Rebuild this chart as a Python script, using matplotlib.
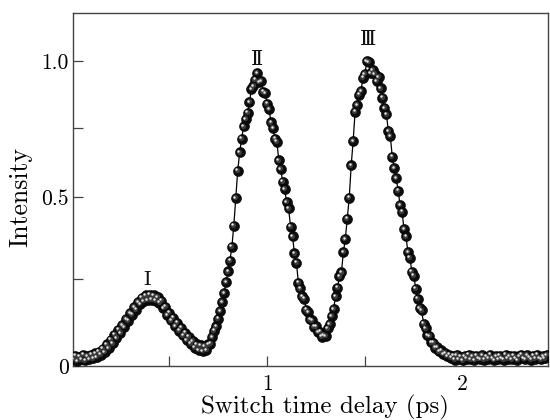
import numpy as np
import matplotlib
matplotlib.use("Agg")
import matplotlib.pyplot as plt
from matplotlib import transforms

# ---------------- data ----------------
delay_ps = [
    0.01, 0.02, 0.03, 0.04, 0.05, 0.06, 0.07, 0.08, 0.09, 0.10,
    0.11, 0.12, 0.13, 0.14, 0.15, 0.16, 0.17, 0.18, 0.19, 0.20,
    0.21, 0.22, 0.23, 0.24, 0.25, 0.26, 0.27, 0.28, 0.29, 0.30,
    0.31, 0.32, 0.33, 0.34, 0.35, 0.36, 0.37, 0.38, 0.39, 0.40,
    0.41, 0.42, 0.43, 0.44, 0.45, 0.46, 0.47, 0.48, 0.49, 0.50,
    0.51, 0.52, 0.53, 0.54, 0.55, 0.56, 0.57, 0.58, 0.59, 0.60,
    0.61, 0.62, 0.63, 0.64, 0.65, 0.66, 0.67, 0.68, 0.69, 0.70,
    0.71, 0.72, 0.73, 0.74, 0.75, 0.76, 0.77, 0.78, 0.79, 0.80,
    0.81, 0.82, 0.83, 0.84, 0.85, 0.86, 0.87, 0.88, 0.89, 0.90,
    0.91, 0.92, 0.93, 0.94, 0.95, 0.96, 0.97, 0.98, 0.99, 1.00,
    1.01, 1.02, 1.03, 1.04, 1.05, 1.06, 1.07, 1.08, 1.09, 1.10,
    1.11, 1.12, 1.13, 1.14, 1.15, 1.16, 1.17, 1.18, 1.19, 1.20,
    1.21, 1.22, 1.23, 1.24, 1.25, 1.26, 1.27, 1.28, 1.29, 1.30,
    1.31, 1.32, 1.33, 1.34, 1.35, 1.36, 1.37, 1.38, 1.39, 1.40,
    1.41, 1.42, 1.43, 1.44, 1.45, 1.46, 1.47, 1.48, 1.49, 1.50,
    1.51, 1.52, 1.53, 1.54, 1.55, 1.56, 1.57, 1.58, 1.59, 1.60,
    1.61, 1.62, 1.63, 1.64, 1.65, 1.66, 1.67, 1.68, 1.69, 1.70,
    1.71, 1.72, 1.73, 1.74, 1.75, 1.76, 1.77, 1.78, 1.79, 1.80,
    1.81, 1.82, 1.83, 1.84, 1.85, 1.86, 1.87, 1.88, 1.89, 1.90,
    1.91, 1.92, 1.93, 1.94, 1.95, 1.96, 1.97, 1.98, 1.99, 2.00,
    2.01, 2.02, 2.03, 2.04, 2.05, 2.06, 2.07, 2.08, 2.09, 2.10,
    2.11, 2.12, 2.13, 2.14, 2.15, 2.16, 2.17, 2.18, 2.19, 2.20,
    2.21, 2.22, 2.23, 2.24, 2.25, 2.26, 2.27, 2.28, 2.29, 2.30,
    2.31, 2.32, 2.33, 2.34, 2.35, 2.36, 2.37, 2.38, 2.39, 2.40,
    2.41, 2.42, 2.43,
]
intensity = [
    0.020, 0.030, 0.014, 0.027, 0.019, 0.032, 0.016, 0.028, 0.020, 0.033,
    0.022, 0.036, 0.026, 0.041, 0.032, 0.050, 0.040, 0.062, 0.052, 0.076,
    0.065, 0.090, 0.080, 0.104, 0.094, 0.118, 0.112, 0.135, 0.130, 0.152,
    0.148, 0.169, 0.162, 0.184, 0.178, 0.196, 0.186, 0.203, 0.190, 0.205,
    0.191, 0.203, 0.188, 0.198, 0.182, 0.188, 0.166, 0.170, 0.146, 0.153,
    0.131, 0.139, 0.115, 0.124, 0.102, 0.110, 0.088, 0.096, 0.075, 0.084,
    0.064, 0.072, 0.053, 0.062, 0.046, 0.059, 0.043, 0.057, 0.046, 0.062,
    0.064, 0.083, 0.101, 0.114, 0.136, 0.158, 0.184, 0.210, 0.241, 0.273,
    0.306, 0.348, 0.413, 0.496, 0.595, 0.661, 0.710, 0.755, 0.783, 0.806,
    0.845, 0.895, 0.905, 0.930, 0.955, 0.920, 0.925, 0.885, 0.880, 0.840,
    0.820, 0.770, 0.748, 0.710, 0.700, 0.632, 0.600, 0.555, 0.528, 0.484,
    0.465, 0.410, 0.380, 0.328, 0.300, 0.240, 0.223, 0.200, 0.193, 0.162,
    0.155, 0.134, 0.131, 0.113, 0.114, 0.098, 0.099, 0.084, 0.089, 0.086,
    0.108, 0.120, 0.143, 0.164, 0.200, 0.225, 0.258, 0.270, 0.332, 0.372,
    0.434, 0.498, 0.614, 0.702, 0.810, 0.835, 0.874, 0.887, 0.937, 0.950,
    1.000, 0.995, 0.955, 0.965, 0.950, 0.925, 0.940, 0.897, 0.863, 0.823,
    0.800, 0.738, 0.720, 0.645, 0.605, 0.568, 0.523, 0.475, 0.455, 0.402,
    0.380, 0.332, 0.315, 0.272, 0.260, 0.222, 0.193, 0.166, 0.160, 0.122,
    0.108, 0.088, 0.086, 0.068, 0.067, 0.053, 0.054, 0.042, 0.045, 0.034,
    0.037, 0.028, 0.033, 0.024, 0.030, 0.018, 0.031, 0.020, 0.027, 0.016,
    0.029, 0.021, 0.032, 0.019, 0.028, 0.017, 0.030, 0.022, 0.020, 0.031,
    0.018, 0.027, 0.021, 0.033, 0.023, 0.017, 0.029, 0.020, 0.030, 0.022,
    0.018, 0.032, 0.021, 0.028, 0.019, 0.030, 0.023, 0.017, 0.029, 0.033,
    0.022, 0.020, 0.031, 0.024, 0.018, 0.030, 0.021, 0.032, 0.023, 0.019,
    0.029, 0.022, 0.031,
]
peak_labels = ["I", "Ⅱ", "Ⅲ"]
peak_x = [0.386, 0.948, 1.516]
peak_y = [0.247, 1.005, 1.062]

x_major = [1, 2]
x_major_labels = ["1", "2"]
x_minor = [0.5, 1.5]
y_major = [0, 0.5, 1.0]
y_major_labels = ["0", "0.5", "1.0"]
y_minor = [0.25, 0.75]

# tick positions on the original axis are not evenly spaced: piecewise scale
scale_vals = [0.0, 0.25, 0.5, 0.75, 1.0, 1.5]
scale_pos = [0.0, 0.285, 0.554, 0.781, 1.0, 1.571]

def fwd(v):
    return np.interp(v, scale_vals, scale_pos)

def inv(p):
    return np.interp(p, scale_pos, scale_vals)

# ---------------- figure ----------------
fig = plt.figure(figsize=(5.5, 4.2), dpi=100)
ax = fig.add_axes([73 / 550, 1 - 366 / 420, (548 - 73) / 550, (366 - 13) / 420])
ax.set_yscale("function", functions=(fwd, inv))

ax.plot(delay_ps, intensity, "-", color="black", lw=0.9, zorder=2)
ax.scatter(delay_ps, intensity, s=52, c="#0d0d0d", edgecolors="#000000",
           linewidths=0.4, zorder=3)
off1 = transforms.offset_copy(ax.transData, fig=fig, x=-0.6, y=0.6, units="points")
ax.scatter(delay_ps, intensity, s=14, c="#3c3c3c", linewidths=0,
           transform=off1, zorder=4)
off2 = transforms.offset_copy(ax.transData, fig=fig, x=-1.0, y=1.0, units="points")
ax.scatter(delay_ps, intensity, s=3, c="#e8e8e8", linewidths=0,
           transform=off2, zorder=5)

ax.set_xlim(0.008, 2.436)
ax.set_ylim(0, 1.1375)

ax.set_xticks(x_major)
ax.set_xticklabels(x_major_labels)
ax.set_xticks(x_minor, minor=True)
ax.set_yticks(y_major)
ax.set_yticklabels(y_major_labels)
ax.set_yticks(y_minor, minor=True)

for sp in ax.spines.values():
    sp.set_color("#444444")
    sp.set_linewidth(1.0)

ax.tick_params(axis="both", which="both", direction="in", length=7,
               width=0.9, color="#444444", top=False, right=False)
ax.tick_params(axis="x", which="major", pad=6)
ax.tick_params(axis="y", which="major", pad=3)

for lab in ax.get_xticklabels() + ax.get_yticklabels():
    lab.set_fontfamily("cmr10")
    lab.set_fontsize(15.5)

ax.set_xlabel("Switch time delay (ps)", fontfamily="cmr10", fontsize=18)
ax.xaxis.set_label_coords(0.531, -0.082)
ax.set_ylabel("Intensity", fontfamily="cmr10", fontsize=18.5)
ax.yaxis.set_label_coords(-0.086, 0.48)

for lbl, px_, py_ in zip(peak_labels, peak_x, peak_y):
    fam = ["cmr10"] if lbl == "I" else ["DejaVu Serif"]
    ax.text(px_, py_, lbl, ha="center", va="center", fontsize=15,
            family=fam, color="#111111", zorder=6)

fig.savefig("out.png", dpi=100)
